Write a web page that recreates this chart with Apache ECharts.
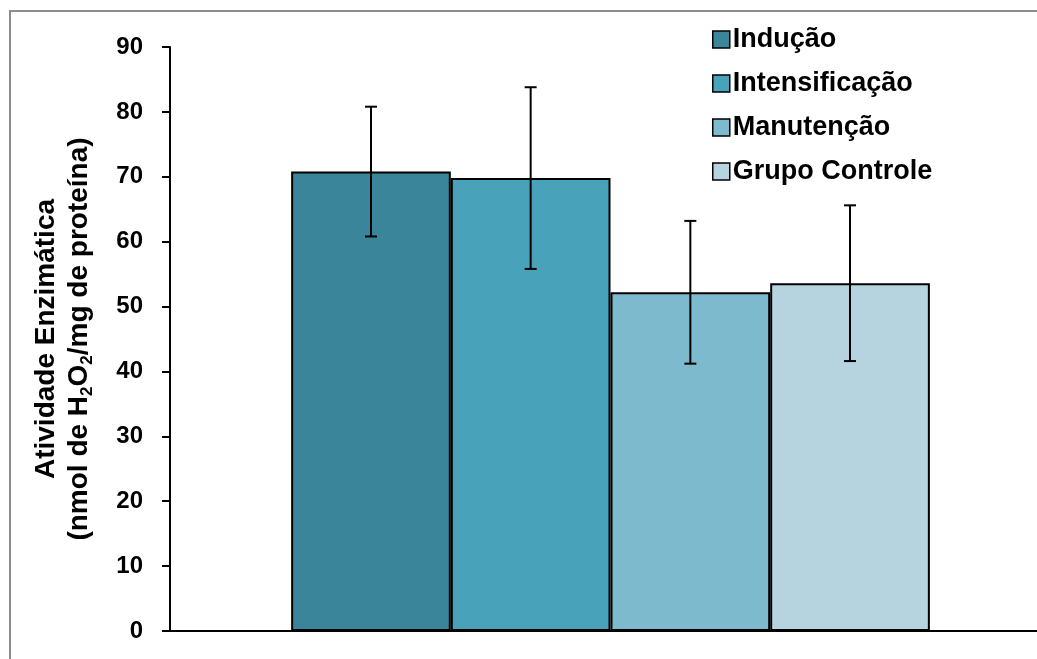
<!DOCTYPE html>
<html>
<head>
<meta charset="utf-8">
<script src="https://cdn.jsdelivr.net/npm/echarts@6/dist/echarts.min.js"></script>
<style>
  html, body { margin: 0; padding: 0; background: #fff; }
  #chart { width: 1037px; height: 659px; }
</style>
</head>
<body>
<div id="chart"></div>
<script>
const groups = ['Indução', 'Intensificação', 'Manutenção', 'Grupo Controle'];
const means = [70.8, 69.8, 52.2, 53.6];
const errors = [10.0, 14.0, 11.0, 12.0];
const colors = ['#3a8599', '#48a2ba', '#7ebace', '#b5d4df'];
const yTicks = [0, 10, 20, 30, 40, 50, 60, 70, 80, 90];

const chart = echarts.init(document.getElementById('chart'));

const gapRatio = 0.275;
const font = 'Liberation Sans, Arial, sans-serif';

const barSeries = groups.map((name, i) => ({
  name: name,
  type: 'bar',
  data: [means[i]],
  barGap: '0%',
  barCategoryGap: (gapRatio * 100) + '%',
  itemStyle: { color: colors[i], borderColor: '#000', borderWidth: 2 },
  emphasis: { disabled: true },
  z: 2
}));

// error bars: [category, low, high, seriesIndex]
const errData = groups.map((g, i) => [0, means[i] - errors[i], means[i] + errors[i], i]);

const errorSeries = {
  type: 'custom',
  name: 'erro',
  data: errData,
  z: 5,
  silent: true,
  renderItem: function (params, api) {
    const low = api.coord([api.value(0), api.value(1)]);
    const high = api.coord([api.value(0), api.value(2)]);
    const idx = api.value(3);
    const catW = api.size([1, 0])[0];
    const total = catW * (1 - gapRatio);
    const bw = total / groups.length;
    const x = low[0] - total / 2 + (idx + 0.5) * bw;
    const cap = 6;
    const style = { stroke: '#000', lineWidth: 2 };
    return {
      type: 'group',
      children: [
        { type: 'line', shape: { x1: x, y1: high[1], x2: x, y2: low[1] }, style: style },
        { type: 'line', shape: { x1: x - cap, y1: high[1], x2: x + cap, y2: high[1] }, style: style },
        { type: 'line', shape: { x1: x - cap, y1: low[1], x2: x + cap, y2: low[1] }, style: style }
      ]
    };
  }
};

chart.setOption({
  animation: false,
  backgroundColor: '#fff',
  textStyle: { fontFamily: font },
  graphic: [{
    type: 'rect',
    shape: { x: 10, y: 11, width: 1100, height: 700 },
    style: { fill: 'none', stroke: '#8c8c8c', lineWidth: 2 },
    silent: true,
    z: -1
  }],
  legend: {
    orient: 'vertical',
    left: 712,
    top: 26,
    padding: 0,
    icon: 'rect',
    itemWidth: 17,
    itemHeight: 17,
    itemGap: 17,
    data: groups,
    itemStyle: { borderColor: '#000', borderWidth: 1.5 },
    textStyle: { fontFamily: font, fontWeight: 'bold', fontSize: 27, lineHeight: 27, color: '#000', padding: [0, 0, 0, -2] }
  },
  grid: { left: 170, right: -14, top: 47, bottom: 28, outerBoundsMode: 'none' },
  xAxis: {
    type: 'category',
    data: [''],
    axisLine: { lineStyle: { color: '#000', width: 2 } },
    axisTick: { show: false },
    axisLabel: { show: false }
  },
  yAxis: {
    type: 'value',
    min: yTicks[0],
    max: yTicks[yTicks.length - 1],
    interval: 10,
    name: '{a|Atividade Enzimática}\n{a|(nmol de H}{s|2}{a|O}{s|2}{a|/mg de proteína)}',
    nameLocation: 'middle',
    nameGap: 74,
    nameRotate: 90,
    nameTextStyle: {
      rich: {
        a: { fontFamily: font, fontWeight: 'bold', fontSize: 28, color: '#000', lineHeight: 33 },
        s: { fontFamily: font, fontWeight: 'bold', fontSize: 17, color: '#000', lineHeight: 33, verticalAlign: 'bottom' }
      }
    },
    axisLine: { show: true, lineStyle: { color: '#000', width: 2 } },
    axisTick: { show: true, length: 8, lineStyle: { color: '#000', width: 2 } },
    axisLabel: { fontFamily: font, fontWeight: 'bold', fontSize: 24, color: '#000', margin: 27 },
    splitLine: { show: false }
  },
  series: barSeries.concat([errorSeries])
});
</script>
</body>
</html>
